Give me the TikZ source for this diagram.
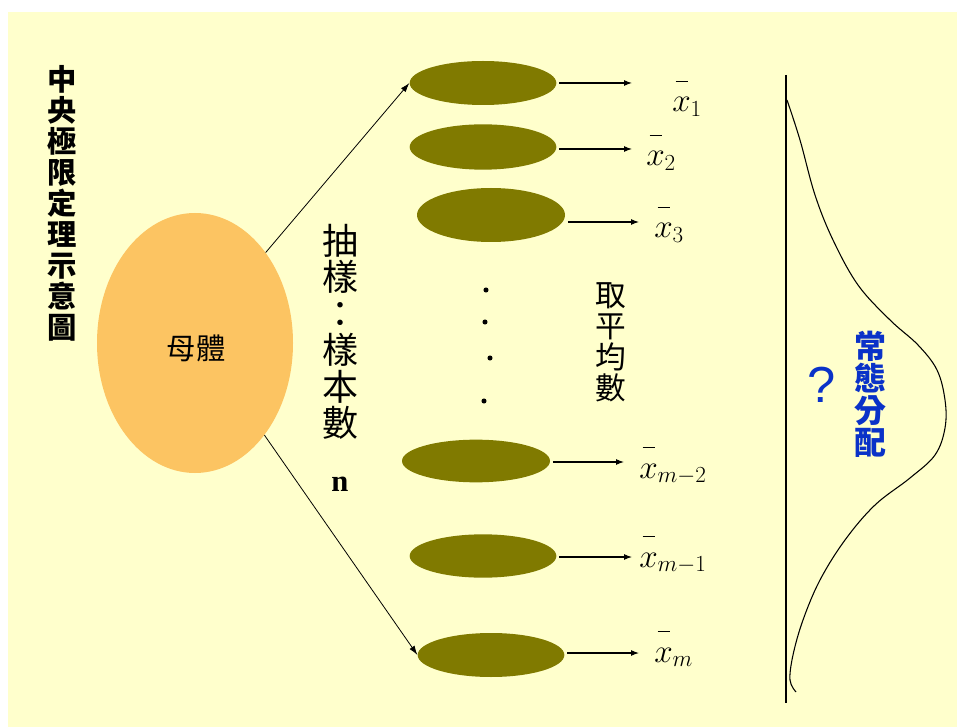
\documentclass[tikz,border=0pt]{standalone}
\usepackage{amsmath}
\usepackage{fontspec}
\setmainfont{Liberation Serif}
\newfontfamily\cjk{Noto Sans CJK TC}
\newfontfamily\qfont{Liberation Sans}
\usetikzlibrary{shapes.geometric,arrows.meta}
\definecolor{bgyellow}{RGB}{255,255,204}
\definecolor{popfill}{RGB}{252,196,98}
\definecolor{olivefill}{RGB}{128,122,0}
\definecolor{normblue}{RGB}{10,50,200}
\newcommand{\myxbar}{{\overset{\rule[7pt]{9pt}{0.8pt}}{x}}}
\tikzset{
  sample/.style={ellipse,fill=olivefill,inner sep=0pt,minimum width=110pt,minimum height=33pt},
  dotnode/.style={circle,fill=black,inner sep=0pt,minimum size=3.8pt},
  tip/.style={-{Latex[length=6pt,width=4.5pt]},line width=0.8pt},
  thintip/.style={-{Latex[length=7pt,width=4.5pt]},line width=0.6pt},
  meanlabel/.style={anchor=base west,inner sep=0pt,font=\fontsize{26}{26}\selectfont},
  vtext/.style={align=center,inner sep=0pt},
}
\begin{document}
\begin{tikzpicture}[x=0.75pt,y=-0.75pt]
\useasboundingbox (0,0) rectangle (957,727);
\fill[white] (0,0) rectangle (957,727);
\fill[bgyellow] (8,12) rectangle (957,727);

% title
\node[vtext,font={\cjk\bfseries\fontsize{22}{23.25}\selectfont}] (title) at (62,203)
  {中\\央\\極\\限\\定\\理\\示\\意\\圖};

% population
\node[ellipse,fill=popfill,inner sep=0pt,minimum width=147pt,minimum height=195pt] (pop) at (195,343) {};
\node[font={\cjk\fontsize{22}{22}\selectfont}] (poplabel) at (196,348) {母體};

% samples
\node[sample] (s1) at (483,83) {};
\node[sample,minimum height=34pt] (s2) at (483,147) {};
\node[sample,minimum width=111pt,minimum height=40.5pt] (s3) at (491,215) {};
\node[sample,minimum width=111pt,minimum height=32pt] (s4) at (476,461) {};
\node[sample,minimum height=32.5pt] (s5) at (483,556) {};
\node[sample] (s6) at (491,655) {};

% dots
\node[dotnode] (d1) at (486,290) {};
\node[dotnode] (d2) at (485,322) {};
\node[dotnode] (d3) at (490,358) {};
\node[dotnode] (d4) at (484,401) {};

% sampling arrows
\draw[thintip] (pop.52) -- (s1.west);
\draw[thintip] (pop.-53) -- (s6.west);

% sampling text
\node[vtext,font={\cjk\fontsize{27}{27.4}\selectfont}] (samp) at (340,332)
  {抽\\樣\\：\\樣\\本\\數};
\node[font=\bfseries\fontsize{23}{23}\selectfont,inner sep=0pt] (n) at (340,484) {n};

% averaging text
\node[vtext,font={\cjk\fontsize{23}{23.25}\selectfont}] (avg) at (611,342)
  {取\\平\\均\\數};

% mean arrows
\coordinate (a1) at (632,83);
\coordinate (a2) at (632,149);
\coordinate (a3) at (639,222);
\coordinate (a4) at (624,462);
\coordinate (a5) at (632,557);
\coordinate (a6) at (639,653);
\draw[tip,shorten <=2pt] (s1.east) -- (a1);
\draw[tip,shorten <=2pt] (s2.east |- a2) -- (a2);
\draw[tip,shorten <=2pt] (s3.east |- a3) -- (a3);
\draw[tip,shorten <=2pt] (s4.east |- a4) -- (a4);
\draw[tip,shorten <=2pt] (s5.east |- a5) -- (a5);
\draw[tip,shorten <=2pt] (s6.east |- a6) -- (a6);

% mean labels
\node[meanlabel] (m1) at (672,112) {$\myxbar_{1}$};
\node[meanlabel] (m2) at (646,166) {$\myxbar_{2}$};
\node[meanlabel] (m3) at (654,238) {$\myxbar_{3}$};
\node[meanlabel] (m4) at (639,478) {$\myxbar_{m-2}$};
\node[meanlabel] (m5) at (639,567) {$\myxbar_{m-1}$};
\node[meanlabel] (m6) at (654,662) {$\myxbar_{m}$};

% normal curve
\draw[line width=1.1pt] (786,75) -- (786,703);
\draw[line width=0.8pt] plot[smooth,tension=0.6] coordinates {
  (787,100) (800,140) (815,195) (833,240) (858,285) (890,320) (918,345)
  (937,370) (945,400) (945,428) (935,455) (910,478) (875,505) (845,540)
  (820,580) (803,620) (793,655) (790,680) (796,692)};

\node[font={\qfont\fontsize{38}{38}\selectfont},text=normblue,inner sep=0pt] (q) at (822,385) {?};
\node[vtext,text=normblue,font={\cjk\bfseries\fontsize{24}{24}\selectfont}] (norm) at (870,394)
  {常\\態\\分\\配};
\end{tikzpicture}
\end{document}
